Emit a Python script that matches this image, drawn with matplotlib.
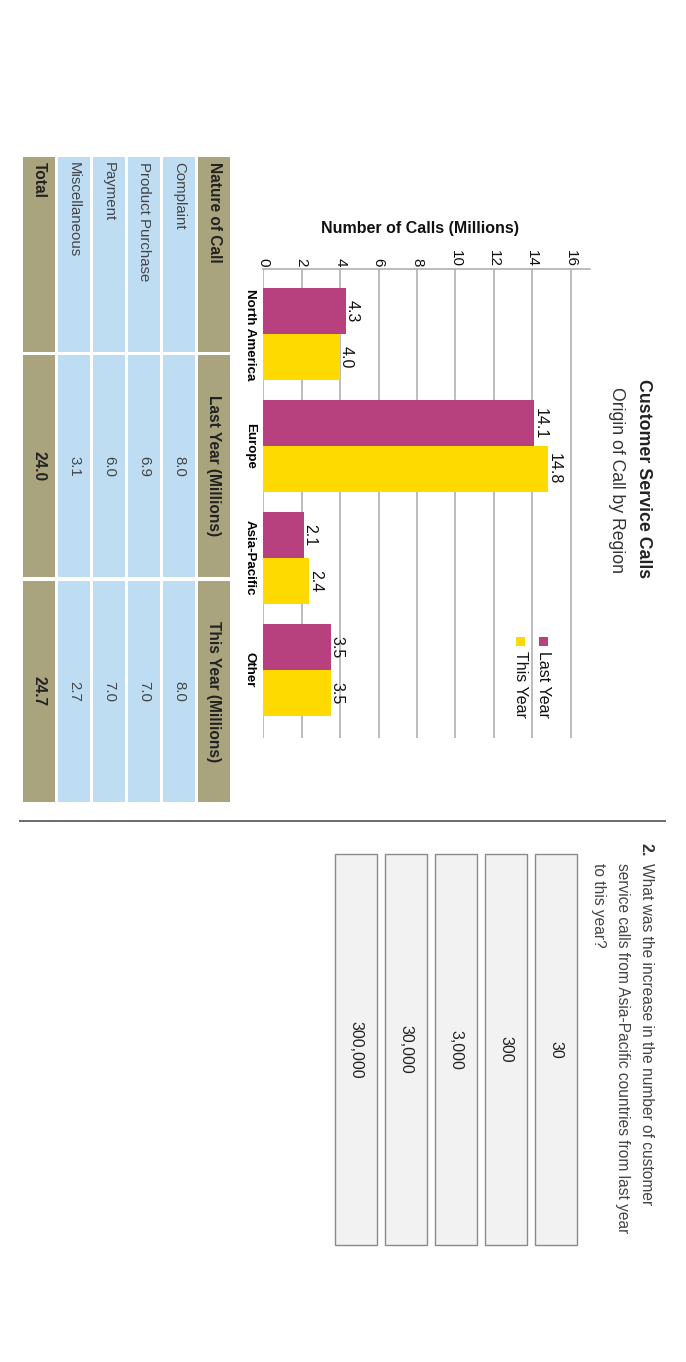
import matplotlib
matplotlib.use("Agg")
import matplotlib.pyplot as plt
from matplotlib.patches import Rectangle
import numpy as np

plt.rcParams["font.family"] = ["Liberation Sans", "DejaVu Sans"]

# chart data
regions = ["North America", "Europe", "Asia-Pacific", "Other"]
last_year = [4.3, 14.1, 2.1, 3.5]
this_year = [4.0, 14.8, 2.4, 3.5]

# table data
call_types = ["Complaint", "Product Purchase", "Payment", "Miscellaneous"]
table_last = [8.0, 6.9, 6.0, 3.1]
table_this = [8.0, 7.0, 7.0, 2.7]
table_headers = ["Nature of Call", "Last Year (Millions)", "This Year (Millions)"]

# question
question_lines = [
    "What was the increase in the number of customer",
    "service calls from Asia-Pacific countries from last year",
    "to this year?",
]
answers = ["30", "300", "3,000", "30,000", "300,000"]

MAGENTA = "#B7407F"
YELLOW = "#FFDA00"
TAN = "#A9A47E"
BLUE = "#BFDDF2"
GRID = "#AAAAAA"

W, H = 686, 1362


def px_box(x0, y0, x1, y1):
    # pixel box (top-left origin) -> figure fraction
    return [x0 / W, 1 - y1 / H, (x1 - x0) / W, (y1 - y0) / H]


fig = plt.figure(figsize=(W / 100, H / 100), dpi=100)
fig.patch.set_facecolor("white")

# page layer in pixel coords, for everything around the chart
page = fig.add_axes([0, 0, 1, 1])
page.set_xlim(0, W)
page.set_ylim(H, 0)
page.axis("off")

# ---- bar chart (page is turned: values run to the right) ----
ax = fig.add_axes(px_box(263.3, 269, 589.9, 738))
ax.set_facecolor("none")
idx = np.arange(len(regions))
bh = 0.41
ax.barh(idx - bh / 2, last_year, height=bh, color=MAGENTA, zorder=2)
ax.barh(idx + bh / 2, this_year, height=bh, color=YELLOW, zorder=2)
ax.set_xlim(0, 17)
ax.set_ylim(3.608, -0.584)

ax.set_xticks(np.arange(0, 17, 2))
ax.xaxis.tick_top()
ax.tick_params(axis="x", length=0, pad=1.5, labelsize=11, labelrotation=-90,
               labelcolor="#111111")
ax.set_yticks(idx)
ax.set_yticklabels(regions, fontsize=9.6, fontweight="bold")
ax.tick_params(axis="y", length=0, pad=5.5)
for lbl in ax.get_yticklabels():
    lbl.set_rotation(-90)
    lbl.set_va("center")

ax.grid(axis="x", color=GRID, lw=1.1)
ax.set_axisbelow(True)
for side in ["left", "right", "bottom"]:
    ax.spines[side].set_visible(False)
ax.spines["top"].set_color(GRID)
ax.spines["top"].set_linewidth(1.1)

for i in idx:
    for v, off in [(last_year[i], -bh / 2), (this_year[i], bh / 2)]:
        ax.text(v + 0.1, i + off, f"{v:.1f}", rotation=-90, rotation_mode="anchor",
                ha="center", va="baseline", fontsize=11.5, color="#111111")

page.text(420, 228, "Number of Calls (Millions)", ha="center", va="center",
          fontsize=11.5, fontweight="bold", color="#111111")

# titles
page.text(643.5, 479, "Customer Service Calls", rotation=-90, ha="center",
          va="center", fontsize=12.8, fontweight="bold", color="#222222")
page.text(616, 480, "Origin of Call by Region", rotation=-90, ha="center",
          va="center", fontsize=12.7, color="#333333")

# legend
for (lx, col, name) in [(539, MAGENTA, "Last Year"), (516, YELLOW, "This Year")]:
    page.add_patch(Rectangle((lx, 637), 9, 9, color=col, lw=0))
    page.text(lx + 4.5, 651, name, rotation=-90, ha="center", va="top",
              fontsize=11.5, color="#111111")

# ---- table ----
col_spans = [(157, 352), (355, 577), (581, 802)]
row_right = 230
row_pitch = 35
row_w = 32
n_rows = len(call_types) + 2
for r in range(n_rows):
    x1 = row_right - r * row_pitch
    x0 = x1 - row_w
    xc = (x0 + x1) / 2
    head = r == 0
    total = r == n_rows - 1
    fc = TAN if (head or total) else BLUE
    if head:
        cells = table_headers
    elif total:
        cells = ["Total", f"{sum(table_last):.1f}", f"{sum(table_this):.1f}"]
    else:
        k = r - 1
        cells = [call_types[k], f"{table_last[k]:.1f}", f"{table_this[k]:.1f}"]
    weight = "bold" if (head or total) else "normal"
    tcol = "#222222" if (head or total) else "#444444"
    fs = 11.2 if (head or total) else 10.8
    for c, (y0, y1) in enumerate(col_spans):
        page.add_patch(Rectangle((x0, y0), row_w, y1 - y0, color=fc, lw=0))
        if c == 0:
            page.text(xc, 162, cells[c], rotation=-90, ha="center", va="top",
                      fontsize=fs, fontweight=weight, color=tcol)
        else:
            page.text(xc, (y0 + y1) / 2, cells[c], rotation=-90, ha="center",
                      va="center", fontsize=fs, fontweight=weight, color=tcol)

# separator
page.plot([20, 665], [821, 821], color="#6A6A6A", lw=1.4)

# ---- question 2 ----
page.text(642, 843, "2.", rotation=-90, rotation_mode="anchor", ha="left",
          va="baseline", fontsize=11.5, fontweight="bold", color="#333333")
for j, line in enumerate(question_lines):
    page.text(642 - j * 24, 863, line, rotation=-90, rotation_mode="anchor",
              ha="left", va="baseline", fontsize=11.2, color="#444444")

for j, ans in enumerate(answers):
    bx = 535 - j * 50
    page.add_patch(Rectangle((bx, 854), 42, 391, facecolor="#F2F2F2",
                             edgecolor="#8A8A8A", lw=1))
    page.text(bx + 21, 1049.5, ans, rotation=-90, ha="center", va="center",
              fontsize=11.5, color="#222222")

fig.savefig("out.png", dpi=100)
